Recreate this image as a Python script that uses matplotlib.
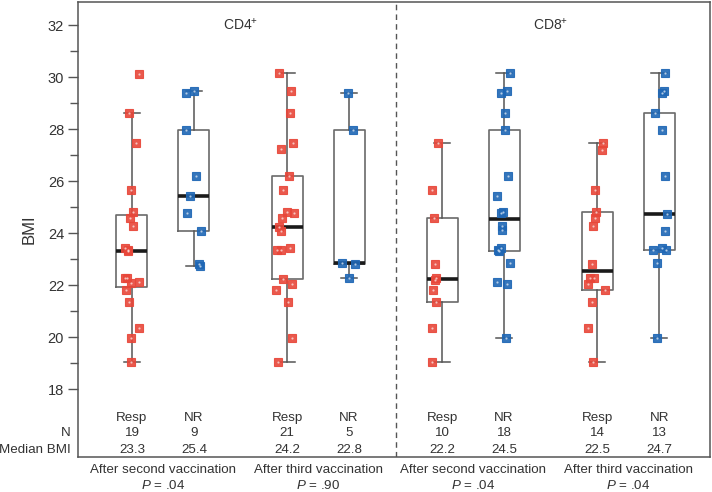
import numpy as np
import matplotlib
matplotlib.use("Agg")
import matplotlib.pyplot as plt
import matplotlib.transforms as mtransforms

plt.rcParams['font.family'] = ['Liberation Sans', 'DejaVu Sans']
plt.rcParams['mathtext.fontset'] = 'custom'
plt.rcParams['mathtext.rm'] = 'Liberation Sans'
plt.rcParams['mathtext.it'] = 'Liberation Sans:italic'
plt.rcParams['mathtext.default'] = 'regular'

# ---- data ----
group_names = ["Resp", "NR", "Resp", "NR", "Resp", "NR", "Resp", "NR"]
n_labels = ["19", "9", "21", "5", "10", "18", "14", "13"]
median_labels = ["23.3", "25.4", "24.2", "22.8", "22.2", "24.5", "22.5", "24.7"]
timepoint_labels = ["After second vaccination", "After third vaccination",
                    "After second vaccination", "After third vaccination"]
p_labels = [".04", ".90", ".04", ".04"]
panel_labels = ["CD4$^{+}$", "CD8$^{+}$"]

cd4_second_resp = [30.1, 28.6, 27.47, 25.65, 24.8, 24.59, 24.26, 23.43, 23.35, 23.3,
                   22.28, 22.26, 22.12, 22.06, 21.8, 21.33, 20.36, 19.97, 19.03]
cd4_second_nr = [29.47, 29.4, 27.96, 26.19, 25.43, 24.76, 24.09, 22.81, 22.75]
cd4_third_resp = [30.14, 29.47, 28.63, 27.47, 27.24, 26.2, 25.65, 24.8, 24.77, 24.59,
                  24.24, 24.09, 23.41, 23.35, 23.33, 22.25, 22.05, 21.8, 21.33, 19.97, 19.03]
cd4_third_nr = [29.4, 27.96, 22.83, 22.8, 22.26]
cd8_second_resp = [27.47, 25.65, 24.59, 22.81, 22.26, 22.2, 21.8, 21.33, 20.35, 19.03]
cd8_second_nr = [30.14, 29.47, 29.4, 28.63, 27.96, 26.19, 25.43, 24.8, 24.78, 24.27,
                 24.1, 23.41, 23.35, 23.3, 22.86, 22.13, 22.05, 19.97]
cd8_third_resp = [27.47, 27.18, 25.65, 24.8, 24.59, 24.26, 22.81, 22.28, 22.26, 22.04,
                  21.8, 21.33, 20.35, 19.03]
cd8_third_nr = [30.14, 29.47, 29.4, 28.63, 27.96, 26.19, 24.72, 24.09, 23.43, 23.35,
                23.33, 22.86, 19.96]

# horizontal jitter of each point (fraction of box spacing)
cd4_second_resp_jit = [0.11, -0.05, 0.06, -0.02, 0.02, -0.03, 0.01, -0.11, -0.07, -0.06,
                       -0.11, -0.08, 0.11, -0.02, -0.09, -0.05, 0.11, -0.02, -0.02]
cd4_second_nr_jit = [0.0, -0.13, -0.13, 0.04, -0.07, -0.11, 0.11, 0.08, 0.09]
cd4_third_resp_jit = [-0.13, 0.06, 0.05, 0.09, -0.10, 0.03, -0.06, 0.0, 0.12, -0.08,
                      -0.13, -0.10, 0.05, -0.09, -0.16, -0.07, 0.08, -0.17, 0.02, 0.08, -0.15]
cd4_third_nr_jit = [-0.02, 0.06, -0.12, 0.09, 0.0]
cd8_second_resp_jit = [-0.06, -0.17, -0.13, -0.12, -0.10, -0.12, -0.15, -0.09, -0.17, -0.17]
cd8_second_nr_jit = [0.10, 0.05, -0.05, 0.02, 0.02, 0.07, -0.12, -0.02, -0.05, -0.04,
                     -0.03, -0.05, -0.10, -0.08, 0.09, -0.12, 0.05, 0.03]
cd8_third_resp_jit = [0.10, 0.08, -0.04, -0.02, -0.04, -0.06, -0.08, -0.05, -0.11, -0.15,
                      0.12, -0.08, -0.15, -0.06]
cd8_third_nr_jit = [0.10, 0.08, 0.05, -0.06, 0.05, 0.10, 0.12, 0.10, 0.04, 0.11,
                    -0.10, -0.03, -0.03]

series = [cd4_second_resp, cd4_second_nr, cd4_third_resp, cd4_third_nr,
          cd8_second_resp, cd8_second_nr, cd8_third_resp, cd8_third_nr]
jitters = [cd4_second_resp_jit, cd4_second_nr_jit, cd4_third_resp_jit, cd4_third_nr_jit,
           cd8_second_resp_jit, cd8_second_nr_jit, cd8_third_resp_jit, cd8_third_nr_jit]

positions = [1, 2, 3.5, 4.5, 6, 7, 8.5, 9.5]
RED = '#e8473a'
BLUE = '#1f67b5'
colors = [RED, BLUE] * 4
TXT = '#333333'
FS = 9.6


def hinge_stats(vals):
    v = np.sort(np.asarray(vals, float))
    n = len(v)
    med = np.median(v)
    half = (n + 1) // 2
    lower = v[:half]
    upper = v[n - half:]
    q1 = np.median(lower)
    q3 = np.median(upper)
    iqr = q3 - q1
    lo = v[v >= q1 - 1.5 * iqr].min()
    hi = v[v <= q3 + 1.5 * iqr].max()
    return dict(med=med, q1=q1, q3=q3, whislo=lo, whishi=hi, fliers=[])


fig = plt.figure(figsize=(7.12, 4.92), dpi=100)
ax = fig.add_axes([78 / 712, 1 - 457 / 492, 632 / 712, 455 / 492])

stats = [hinge_stats(s) for s in series]
ax.bxp(stats, positions=positions, widths=0.5, showfliers=False,
       capwidths=0.26,
       boxprops=dict(color='#6a6a6a', linewidth=1.2),
       whiskerprops=dict(color='#555555', linewidth=1.1),
       capprops=dict(color='#555555', linewidth=1.1),
       medianprops=dict(color='#1a1a1a', linewidth=2.6),
       manage_ticks=False, zorder=2)

for pos, vals, jit, c in zip(positions, series, jitters, colors):
    xs = pos + np.asarray(jit)
    ax.plot(xs, vals, ls='none', marker='s', ms=5.2, mfc=c, mec=c, mew=0.8,
            alpha=0.9, zorder=3)
    ax.plot(xs, vals, ls='none', marker='.', ms=1.2, mec='white', mfc='white',
            alpha=0.6, zorder=4)

ax.set_xlim(0.13, 10.32)
ax.set_ylim(15.385, 32.885)
ax.set_yticks(np.arange(18, 33, 2))
ax.set_yticks(np.arange(19, 32, 2), minor=True)
ax.set_xticks([])
ax.tick_params(axis='y', which='major', length=7, width=1, color='#555555',
               labelsize=10.5, labelcolor=TXT, pad=3)
ax.tick_params(axis='y', which='minor', length=6, width=1, color='#555555')
for sp in ax.spines.values():
    sp.set_color('#555555')
    sp.set_linewidth(1.1)
ax.set_ylabel('BMI', fontsize=12, color=TXT, labelpad=8)

ax.axvline(5.25, color='#555555', lw=1, ls=(0, (4, 3)))

ax.text(2.75, 32, panel_labels[0], ha='center', va='center', fontsize=10, color=TXT)
ax.text(7.75, 32, panel_labels[1], ha='center', va='center', fontsize=10, color=TXT)

trans = mtransforms.blended_transform_factory(ax.transData, ax.transAxes)
for pos, g, n, m in zip(positions, group_names, n_labels, median_labels):
    ax.text(pos, 0.086, g, transform=trans, ha='center', va='center', fontsize=FS, color=TXT)
    ax.text(pos, 0.052, n, transform=trans, ha='center', va='center', fontsize=FS, color=TXT)
    ax.text(pos, 0.016, m, transform=trans, ha='center', va='center', fontsize=FS, color=TXT)

ax.text(-0.012, 0.052, 'N', transform=ax.transAxes, ha='right', va='center',
        fontsize=FS, color=TXT)
ax.text(-0.012, 0.016, 'Median BMI', transform=ax.transAxes, ha='right', va='center',
        fontsize=FS, color=TXT)

centers = [1.5, 4.0, 6.5, 9.0]
for cx, t, p in zip(centers, timepoint_labels, p_labels):
    ax.text(cx, -0.029, t, transform=trans, ha='center', va='center', fontsize=FS,
            color=TXT, clip_on=False)
    ax.text(cx, -0.063, r'$\mathit{P}$ = ' + p, transform=trans, ha='center',
            va='center', fontsize=FS, color=TXT, clip_on=False)

fig.savefig('out.png', dpi=100)
